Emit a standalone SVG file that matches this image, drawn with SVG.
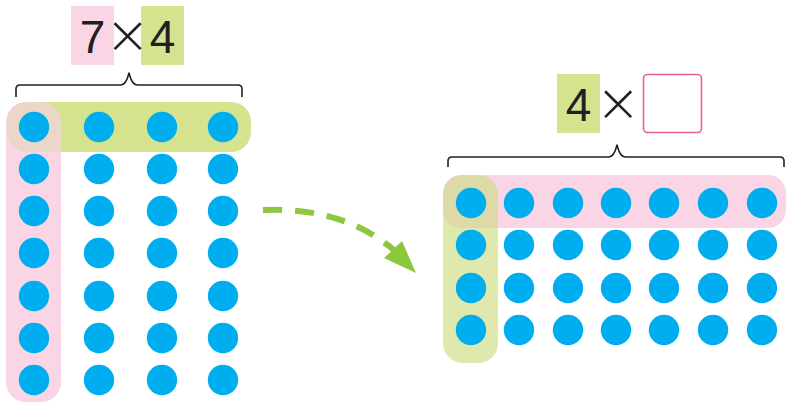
<svg xmlns="http://www.w3.org/2000/svg" width="787" height="403" viewBox="0 0 787 403">
<style>
.dot{fill:#00aeef}
.num{font-family:"Liberation Sans",Arial,sans-serif;font-size:46px;fill:#231f20;text-anchor:middle}
.times{font-family:"DejaVu Sans","Liberation Sans",sans-serif;font-weight:200;font-size:54px;fill:#231f20;text-anchor:middle}
.brace{fill:none;stroke:#231f20;stroke-width:1.6;stroke-linejoin:round}
.pink{fill:#f9d5e5}
.green{fill:#d5e38e}
</style>
<defs>
<clipPath id="clipLcol"><rect x="6" y="102" width="55" height="300" rx="20"/></clipPath>
<clipPath id="clipRcol"><rect x="443" y="175" width="55" height="188" rx="20"/></clipPath>
<g id="dotsL-row">
<circle class="dot" cx="34" cy="0" r="15.2"/>
<circle class="dot" cx="99" cy="0" r="15.2"/>
<circle class="dot" cx="162" cy="0" r="15.2"/>
<circle class="dot" cx="223" cy="0" r="15.2"/>
</g>
<g id="dotsR-row">
<circle class="dot" cx="471" cy="0" r="15.2"/>
<circle class="dot" cx="519" cy="0" r="15.2"/>
<circle class="dot" cx="568" cy="0" r="15.2"/>
<circle class="dot" cx="616" cy="0" r="15.2"/>
<circle class="dot" cx="664" cy="0" r="15.2"/>
<circle class="dot" cx="713" cy="0" r="15.2"/>
<circle class="dot" cx="762" cy="0" r="15.2"/>
</g>
</defs>
<rect width="787" height="403" fill="#ffffff"/>

<g id="left-label">
<rect class="pink" x="71" y="6" width="43" height="59"/>
<rect class="green" x="141" y="6" width="43" height="59"/>
<text class="num" x="92.5" y="53">7</text>
<text class="times" x="127.5" y="52.5">×</text>
<text class="num" x="162.5" y="53">4</text>
</g>

<g id="left-brace">
<path class="brace" d="M16,97 V89 Q16,85 20,85 H121 Q126,85 129,73 Q132,85 137,85 H238 Q242,85 242,89 V97"/>
</g>

<g id="left-grid">
<rect class="green" x="7" y="102" width="244" height="50" rx="20"/>
<rect class="pink" x="6" y="102" width="55" height="300" rx="20"/>
<rect x="7" y="102" width="244" height="50" rx="20" fill="#ead7c8" clip-path="url(#clipLcol)"/>
<use href="#dotsL-row" y="127"/>
<use href="#dotsL-row" y="169"/>
<use href="#dotsL-row" y="211"/>
<use href="#dotsL-row" y="253"/>
<use href="#dotsL-row" y="296"/>
<use href="#dotsL-row" y="338"/>
<use href="#dotsL-row" y="380"/>
</g>

<g id="connectors">
<path d="M263,210 C320,208 360,222 394,250" fill="none" stroke="#8dc63f" stroke-width="6" stroke-dasharray="19,13"/>
<polygon points="416,273 384,258 402,241" fill="#8dc63f"/>
</g>

<g id="right-label">
<rect class="green" x="557" y="74" width="43" height="59"/>
<text class="num" x="578.5" y="121">4</text>
<text class="times" x="618" y="120.5">×</text>
<rect x="643.5" y="74.5" width="58" height="58" rx="4" fill="#ffffff" stroke="#ea5f9a" stroke-width="1.6"/>
</g>

<g id="right-brace">
<path class="brace" d="M448,167 V161 Q448,157 452,157 H609 Q614,157 617,145 Q620,157 625,157 H780 Q784,157 784,161 V167"/>
</g>

<g id="right-grid">
<rect class="pink" x="443" y="175" width="343" height="53" rx="18"/>
<rect x="443" y="175" width="55" height="188" rx="20" fill="#e0e9ad"/>
<rect x="443" y="175" width="343" height="53" rx="18" fill="#dedaa8" clip-path="url(#clipRcol)"/>
<use href="#dotsR-row" y="203"/>
<use href="#dotsR-row" y="245"/>
<use href="#dotsR-row" y="288"/>
<use href="#dotsR-row" y="330"/>
</g>
</svg>
